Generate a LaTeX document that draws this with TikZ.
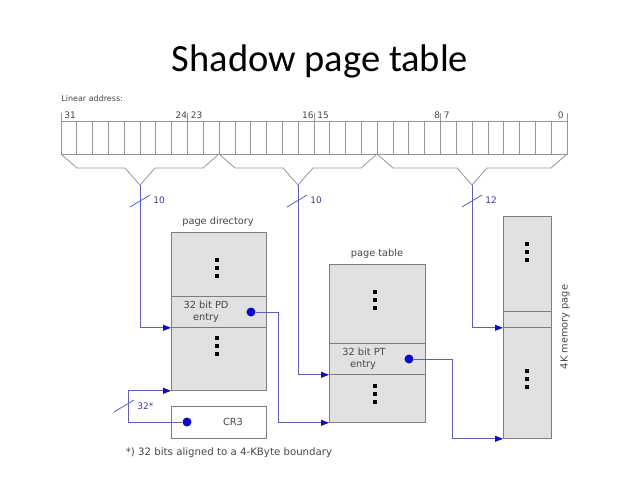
\documentclass[tikz,border=0pt]{standalone}
\usepackage{fontspec}
\setmainfont{DejaVu Sans}
\newfontfamily\titlefont{Carlito}
\usetikzlibrary{arrows.meta}

\definecolor{linegray}{RGB}{150,150,150}
\definecolor{boxgray}{RGB}{225,225,225}
\definecolor{edgegray}{RGB}{125,125,125}
\definecolor{linkblue}{RGB}{95,95,185}
\definecolor{tipblue}{RGB}{10,10,200}
\definecolor{labelblue}{RGB}{60,60,140}
\definecolor{textgray}{RGB}{70,70,70}

\begin{document}
\begin{tikzpicture}[x=1pt,y=-1pt,
              line width=0.8pt,
              cell/.style={draw=linegray},
              table/.style={draw=edgegray,fill=boxgray,inner sep=0pt,anchor=north west},
              ptr/.style={draw=linkblue,-{Triangle[length=8pt,width=6pt,color=tipblue]}},
              link/.style={draw=linkblue},
              dot/.style={circle,fill=tipblue,minimum size=9pt,inner sep=0pt},
              lbl/.style={text=textgray,font=\fontsize{9.8}{11}\selectfont,inner sep=0pt},
              bitno/.style={text=textgray,font=\fontsize{9}{10}\selectfont,inner sep=0pt},
              width/.style={text=labelblue,font=\fontsize{9}{10}\selectfont,inner sep=0pt,anchor=west}
            ]
  \useasboundingbox (0,0) rectangle (640,480);

  \node[font=\titlefont\fontsize{38.5}{42}\selectfont] (title) at (320,61) {Shadow page table};

  % linear address register
  \node[lbl,font=\fontsize{8}{9}\selectfont,anchor=west] (linaddr) at (61,99) {Linear address:};
  \node[cell,minimum width=506pt,minimum height=33pt,inner sep=0pt,anchor=north west] (reg) at (61,121) {};
  \foreach \i in {1,...,31}
    \draw[cell] ([xshift=\i*15.8125pt]reg.north west) -- ([xshift=\i*15.8125pt]reg.south west);
  \foreach \i in {0,8,16,24,32}
    \draw[cell] ([xshift=\i*15.8125pt]reg.north west) -- ++(0,-8);
  \node[bitno,anchor=west] (b31) at (64,115.5) {31};
  \node[bitno,anchor=east] (b24) at (187.5,115.5) {24};
  \node[bitno,anchor=west] (b23) at (190.5,115.5) {23};
  \node[bitno,anchor=east] (b16) at (314,115.5) {16};
  \node[bitno,anchor=west] (b15) at (317,115.5) {15};
  \node[bitno,anchor=east] (b8) at (440.5,115.5) {8};
  \node[bitno,anchor=west] (b7) at (443.5,115.5) {7};
  \node[bitno,anchor=east] (b0) at (564,115.5) {0};

  % brackets over the three fields
  \foreach \xa/\xb/\n in {61/219/1, 219/377/2, 377/567/3} {
    \pgfmathsetmacro{\xm}{(\xa+\xb)/2}
    \draw[cell] (\xa,154) -- (\xa+16,168) -- (\xm-15,168) -- (\xm,185)
                -- (\xm+15,168) -- (\xb-16,168) -- (\xb,154);
    \coordinate (apex\n) at (\xm,185);
  }

  % page directory
  \node[lbl] (pdname) at (218,222) {page directory};
  \node[table,minimum width=95pt,minimum height=158pt] (pd) at (171,232) {};
  \node[table,minimum width=95pt,minimum height=31pt] (pdentry) at (171,296) {};
  \node[lbl] (pdtext1) at (206,305) {32 bit PD};
  \node[lbl] (pdtext2) at (206,318) {entry};
  \node[dot] (pddot) at (251,312) {};

  % page table
  \node[lbl] (ptname) at (377,254) {page table};
  \node[table,minimum width=96pt,minimum height=158pt] (pt) at (329,264) {};
  \node[table,minimum width=96pt,minimum height=31pt] (ptentry) at (329,343) {};
  \node[lbl] (pttext1) at (364,352) {32 bit PT};
  \node[lbl] (pttext2) at (363,365) {entry};
  \node[dot] (ptdot) at (409,359) {};

  % memory page
  \node[table,minimum width=48pt,minimum height=222pt] (mem) at (503,216) {};
  \node[table,minimum width=48pt,minimum height=16pt] (mementry) at (503,311) {};
  \node[lbl,rotate=90] (memname) at (565,327) {4K memory page};

  % CR3
  \node[table,fill=white,minimum width=95pt,minimum height=32pt] (cr3) at (171,406) {};
  \node[lbl] (cr3text) at (233,422) {CR3};
  \node[dot] (crdot) at (187,422) {};

  % vertical dots
  \foreach \x/\y in {217/260, 217/338, 375/292, 375/386, 527/244, 527/371}
    \foreach \k in {0,1,2}
      \fill ({\x-1.6},{\y+\k*8-1.6}) rectangle ++(3.2,3.2);

  % connectors
  \draw[ptr] (apex1) |- (pdentry.south west);
  \draw[ptr] (apex2) |- (ptentry.south west);
  \draw[ptr] (apex3) |- (mementry.south west);
  \draw[ptr] (pddot) -- ++(27,0) |- (pt.south west);
  \draw[ptr] (ptdot) -- ++(43,0) |- (mem.south west);
  \draw[ptr] (crdot) -- ++(-59,0) |- (pd.south west);

  % field widths
  \draw[link] (130,207) -- (150,195);
  \node[width] (w1) at (153,200) {10};
  \draw[link] (287,207) -- (307,195);
  \node[width] (w2) at (310,200) {10};
  \draw[link] (462,207) -- (482,195);
  \node[width] (w3) at (485,200) {12};
  \draw[link] (114,412) -- (134,400);
  \node[width] (w4) at (137,406) {32*};

  \node[lbl,font=\fontsize{10.2}{12}\selectfont] (note) at (229,453) {*) 32 bits aligned to a 4-KByte boundary};
\end{tikzpicture}
\end{document}
